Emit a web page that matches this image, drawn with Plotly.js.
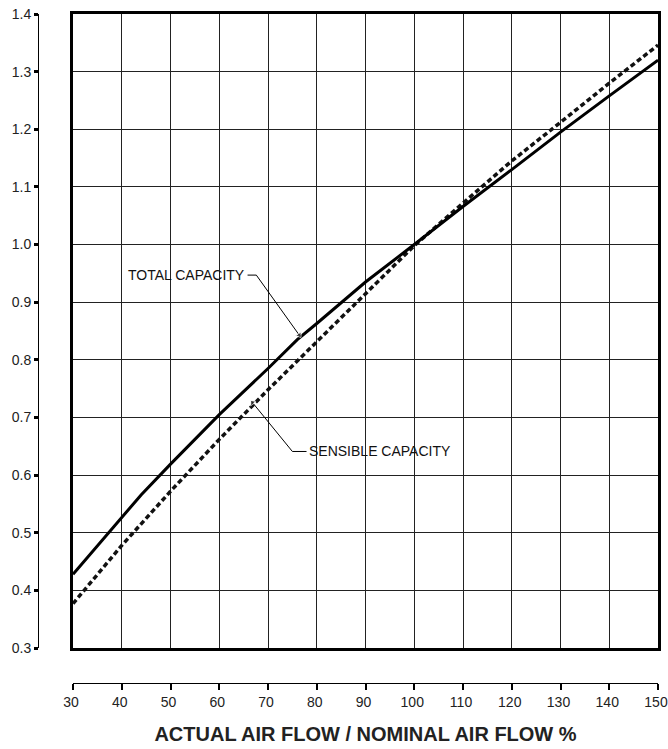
<!DOCTYPE html>
<html><head><meta charset="utf-8">
<script src="https://cdn.plot.ly/plotly-3.0.1.min.js"></script>
<style>html,body{margin:0;padding:0;background:#fff}</style></head>
<body>
<div id="chart" style="width:668px;height:749px"></div>
<script>
// Data
const airflowPct = [30, 40, 44, 50, 60, 70, 76, 80, 90, 100, 110, 120, 130, 140, 150];
const totalCapacity = [0.428, 0.527, 0.566, 0.619, 0.705, 0.785, 0.835, 0.863, 0.935, 1.0, 1.066, 1.13, 1.195, 1.258, 1.32];
const sensAirflowPct = [30, 40, 50, 60, 70, 80, 90, 100, 110, 120, 130, 140, 150];
const sensibleCapacity = [0.377, 0.478, 0.572, 0.662, 0.748, 0.832, 0.915, 0.998, 1.072, 1.145, 1.212, 1.28, 1.346];
const xTickVals = [30, 40, 50, 60, 70, 80, 90, 100, 110, 120, 130, 140, 150];
const yTickVals = [0.3, 0.4, 0.5, 0.6, 0.7, 0.8, 0.9, 1.0, 1.1, 1.2, 1.3, 1.4];
const xAxisTitle = 'ACTUAL AIR FLOW / NOMINAL AIR FLOW %';
const totalLabel = 'TOTAL CAPACITY';
const sensibleLabel = 'SENSIBLE CAPACITY';
// leader lines (label end -> curve)
const totalLeaderX = [65.8, 67.6, 76.4];
const totalLeaderY = [0.947, 0.947, 0.843];
const sensLeaderX = [77.9, 75.0, 66.8];
const sensLeaderY = [0.641, 0.641, 0.726];

const FONT = 'Liberation Sans, Arial, Helvetica, sans-serif';

const leaderMarker = {symbol: 'triangle-up', size: [0, 0, 6], color: '#000', angleref: 'previous'};

const traces = [
  {x: sensAirflowPct, y: sensibleCapacity, mode: 'lines', line: {color: '#111', width: 3.5, dash: '5px,3px'}, hoverinfo: 'skip'},
  {x: airflowPct, y: totalCapacity, mode: 'lines', line: {color: '#000', width: 3}, hoverinfo: 'skip'},
  {x: totalLeaderX, y: totalLeaderY, mode: 'lines+markers', line: {color: '#000', width: 1}, marker: leaderMarker, hoverinfo: 'skip'},
  {x: sensLeaderX, y: sensLeaderY, mode: 'lines+markers', line: {color: '#000', width: 1}, marker: leaderMarker, hoverinfo: 'skip'},
  {x: [null], y: [null], xaxis: 'x2', yaxis: 'y2', mode: 'lines', hoverinfo: 'skip'}
];

const layout = {
  width: 668, height: 749,
  margin: {l: 38, r: 10, t: 14, b: 66, pad: 0},
  paper_bgcolor: '#fff', plot_bgcolor: '#fff',
  showlegend: false,
  font: {family: FONT, color: '#222', size: 14},
  xaxis: {domain: [0.0565, 1], range: [30, 150], tickvals: xTickVals, showticklabels: false, ticks: '',
          showgrid: true, gridcolor: '#222', gridwidth: 1, showline: true, mirror: true,
          linecolor: '#000', linewidth: 3, zeroline: false, fixedrange: true},
  yaxis: {domain: [0.0523, 1], range: [0.3, 1.4], tickvals: yTickVals, showticklabels: false, ticks: '',
          showgrid: true, gridcolor: '#222', gridwidth: 1, showline: true, mirror: true,
          linecolor: '#000', linewidth: 3, zeroline: false, fixedrange: true},
  xaxis2: {overlaying: 'x', anchor: 'free', position: 0, range: [30, 150], tickvals: xTickVals,
           ticks: 'outside', ticklen: 6, tickwidth: 2, tickcolor: '#000', showline: true,
           linecolor: '#000', linewidth: 1, showgrid: false, zeroline: false,
           ticklabeloverflow: 'allow', ticklabelshift: -2,
           tickfont: {family: FONT, size: 14, color: '#222'},
           title: {text: '<b>' + xAxisTitle + '</b>', font: {family: FONT, size: 20, color: '#222'}, standoff: 18}},
  yaxis2: {overlaying: 'y', anchor: 'free', position: 0, side: 'left', range: [0.3, 1.4], tickvals: yTickVals,
           tickformat: '.1f', ticks: 'outside', ticklen: 4, tickwidth: 3, tickcolor: '#000', showline: true,
           linecolor: '#000', linewidth: 1, showgrid: false, zeroline: false,
           tickfont: {family: FONT, size: 14, color: '#222'}},
  annotations: [
    {x: totalLeaderX[0], y: totalLeaderY[0], xref: 'x', yref: 'y', text: totalLabel, showarrow: false,
     xanchor: 'right', yanchor: 'middle', xshift: -1, font: {family: FONT, size: 14, color: '#111'}},
    {x: sensLeaderX[0], y: sensLeaderY[0], xref: 'x', yref: 'y', text: sensibleLabel, showarrow: false,
     xanchor: 'left', yanchor: 'middle', xshift: 0, font: {family: FONT, size: 14, color: '#111'}}
  ]
};

Plotly.newPlot('chart', traces, layout, {displayModeBar: false, staticPlot: true});
</script>
</body></html>
